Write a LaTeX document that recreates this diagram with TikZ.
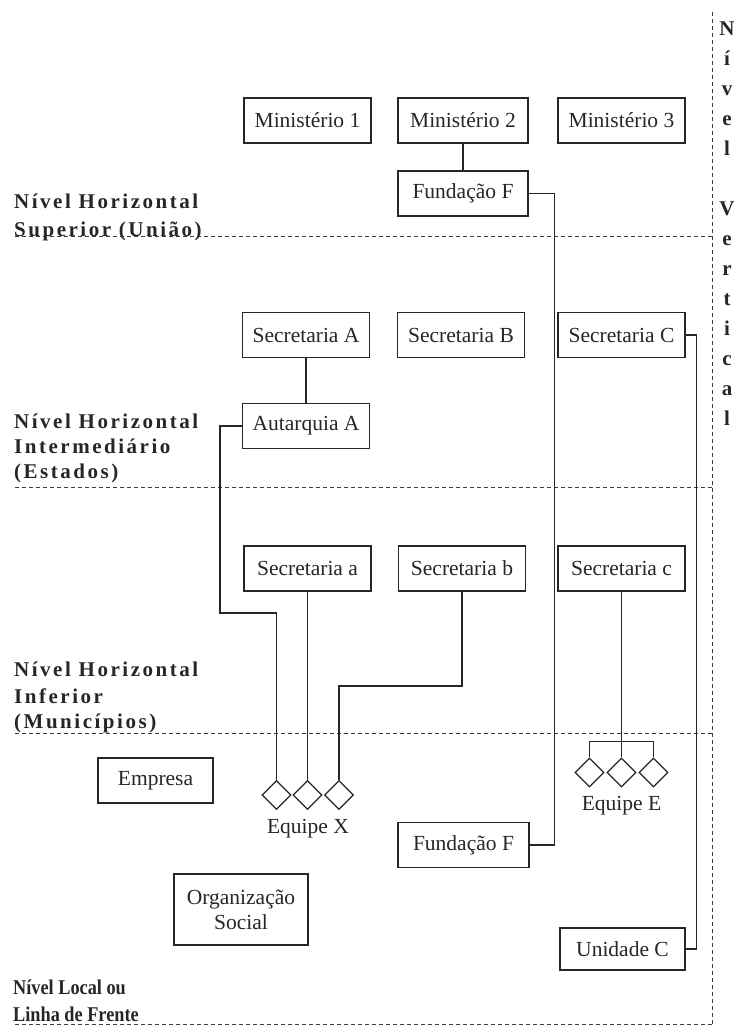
\documentclass[tikz,border=0pt]{standalone}
\usepackage{fontspec}
\setmainfont{Liberation Serif}
\usetikzlibrary{shapes.geometric}

\definecolor{ink}{HTML}{262626}
\definecolor{rulecol}{HTML}{3A3A3A}

\tikzset{
  unit/.style={draw=ink, line width=1.25pt, text=ink, inner sep=0pt,
    minimum height=45pt, minimum width=127pt, align=center,
    font=\fontsize{21.5}{25}\selectfont},
  member/.style={draw=ink, line width=1.2pt, diamond, aspect=1,
    minimum width=29pt, minimum height=29pt, inner sep=0pt},
  link/.style={draw=ink, line width=1.2pt},
  levelrule/.style={draw=rulecol, line width=1pt, dash pattern=on 4pt off 3pt},
  levelname/.style={anchor=base west, inner sep=0pt, text=ink,
    font=\fontsize{21}{24}\selectfont\bfseries\addfontfeature{LetterSpace=12}},
  localname/.style={anchor=base west, inner sep=0pt, text=ink,
    font=\fontsize{21}{24}\selectfont\bfseries\addfontfeature{FakeStretch=0.87}},
  vletter/.style={anchor=base, inner sep=0pt, text=ink,
    font=\fontsize{21}{24}\selectfont\bfseries},
  teamname/.style={anchor=base, inner sep=0pt, text=ink,
    font=\fontsize{21.5}{25}\selectfont},
}

\begin{document}
\begin{tikzpicture}[x=1pt,y=-1pt]
\useasboundingbox (0,0) rectangle (739,1026);

% level separators
\draw[levelrule] (15,236) -- (712,236);
\draw[levelrule] (15,487) -- (712,487);
\draw[levelrule] (15,733) -- (712,733);
\draw[levelrule] (15,1024) -- (712,1024);
\draw[levelrule] (712,12) -- (712,1026);

% level names
\node[levelname] (ls1) at (14,208) {Nível Horizontal};
\node[levelname] (ls2) at (14,236) {Superior (União)};
\node[levelname] (li1) at (14,428) {Nível Horizontal};
\node[levelname] (li2) at (14,453) {Intermediário};
\node[levelname] (li3) at (14,478) {(Estados)};
\node[levelname] (lf1) at (14,676) {Nível Horizontal};
\node[levelname] (lf2) at (14,703) {Inferior};
\node[levelname] (lf3) at (14,728) {(Municípios)};
\node[localname] (ll1) at (13,994) {Nível Local ou};
\node[localname] (ll2) at (13,1021) {Linha de Frente};

% vertical level name
\foreach \ch/\yy in {N/35, í/65, v/95, e/125, l/155,
                     V/215, e/245, r/275, t/305, i/335, c/365, a/395, l/425}
  \node[vletter] (vl-\yy) at (727,\yy) {\ch};

% federal level
\node[unit] (m1) at (307.5,120.5) {Ministério 1};
\node[unit, minimum width=130pt] (m2) at (463,120.5) {Ministério 2};
\node[unit] (m3) at (621.5,120.5) {Ministério 3};
\node[unit, minimum width=130pt] (ftop) at (463,193.5) {Fundação F};

% state level
\node[unit] (secA) at (306,335) {Secretaria A};
\node[unit] (secB) at (461,335) {Secretaria B};
\node[unit] (secC) at (621.5,335) {Secretaria C};
\node[unit] (autA) at (306,426) {Autarquia A};

% municipal level
\node[unit] (seca) at (307.5,568.5) {Secretaria a};
\node[unit] (secb) at (462,568.5) {Secretaria b};
\node[unit] (secc) at (621.5,568.5) {Secretaria c};

% local level
\node[unit, minimum width=115pt] (emp) at (155.5,780.5) {Empresa};
\node[unit, minimum width=134pt, minimum height=71pt] (os) at (241,909.5) {Organização\\Social};
\node[unit, minimum width=131pt] (flow) at (463.5,845) {Fundação F};
\node[unit, minimum width=125pt, minimum height=42pt] (unC) at (622.5,949) {Unidade C};

% teams
\node[member] (x1) at (276.5,795) {};
\node[member] (x2) at (307.5,795) {};
\node[member] (x3) at (339,795) {};
\node[teamname] (eqX) at (308,833) {Equipe X};
\node[member] (e1) at (589.5,772.5) {};
\node[member] (e2) at (621.5,772.5) {};
\node[member] (e3) at (653.5,772.5) {};
\node[teamname] (eqE) at (621.5,810) {Equipe E};

% connectors
\coordinate (jA) at (220,613);
\coordinate (jb) at (339,686);
\draw[link] (m2.south) -- (ftop.north);
\draw[link] (ftop.east) -- ++(26,0) |- (flow.east);
\draw[link] (secA.south) -- (autA.north);
\draw[link] (autA.west) -| (jA) -| (x1.north);
\draw[link] (seca.south) -- (x2.north);
\draw[link] (secb.south) |- (jb) -- (x3.north);
\draw[link] (secc.south) -- (e2.north);
\draw[link] (e1.north) -- ++(0,-16) -| (e3.north);
\draw[link] (secC.east) -- ++(11,0) |- (unC.east);
\end{tikzpicture}
\end{document}
